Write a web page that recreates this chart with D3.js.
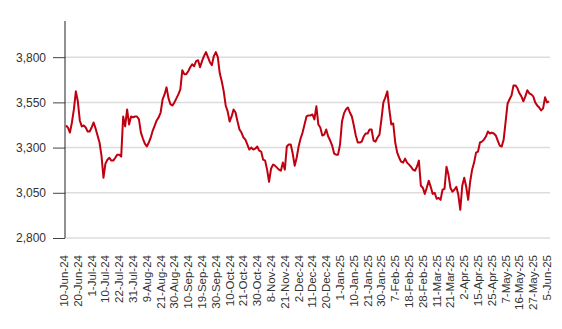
<!DOCTYPE html>
<html>
<head>
<meta charset="utf-8">
<script src="https://cdn.jsdelivr.net/npm/d3@7"></script>
<style>
  html, body { margin: 0; padding: 0; background: #fff; }
  svg { display: block; }
  text { font-family: "Liberation Sans", Arial, sans-serif; }
</style>
</head>
<body>
<svg id="chart" width="562" height="329"></svg>
<script>
// Daily closing values, one per trading session
const values = [
  3422, 3410, 3383, 3439, 3511, 3611, 3556, 3450, 3417, 3422,
  3411, 3389, 3389, 3411, 3439, 3406, 3367, 3328, 3256, 3133,
  3211, 3233, 3244, 3228, 3228, 3244, 3261, 3261, 3250, 3472,
  3417, 3511, 3428, 3472, 3467, 3472, 3472, 3456, 3383, 3350,
  3322, 3306, 3328, 3356, 3394, 3422, 3450, 3467, 3494, 3567,
  3594, 3633, 3572, 3539, 3533, 3550, 3572, 3594, 3622, 3728,
  3706, 3706, 3722, 3744, 3761, 3750, 3778, 3783, 3744, 3778,
  3806, 3828, 3800, 3772, 3756, 3806, 3828, 3800, 3711, 3667,
  3611, 3533, 3500, 3444, 3472, 3511, 3494, 3444, 3400, 3383,
  3356, 3344, 3317, 3289, 3300, 3289, 3294, 3306, 3283, 3278,
  3233, 3228, 3178, 3111, 3183, 3206, 3200, 3189, 3178, 3172,
  3217, 3178, 3306, 3317, 3317, 3267, 3200, 3244, 3306, 3350,
  3383, 3428, 3472, 3478, 3478, 3483, 3456, 3528, 3428, 3411,
  3367, 3372, 3400, 3361, 3339, 3311, 3267, 3261, 3261, 3317,
  3444, 3489, 3511, 3522, 3494, 3472, 3422, 3367, 3328, 3328,
  3333, 3361, 3378, 3378, 3400, 3400, 3339, 3333, 3356, 3372,
  3456, 3550, 3578, 3611, 3511, 3428, 3433, 3328, 3272, 3244,
  3222, 3217, 3239, 3217, 3206, 3194, 3178, 3172, 3194, 3228,
  3089, 3078, 3044, 3078, 3117, 3083, 3044, 3050, 3017, 3022,
  3011, 3067, 3072, 3194, 3150, 3078, 3056, 3067, 3083, 3039,
  2956, 3089, 3133, 3083, 3011, 3111, 3178, 3217, 3272, 3278,
  3328, 3333, 3344, 3361, 3389, 3378, 3383, 3378, 3367, 3339,
  3311, 3306, 3344, 3444, 3544, 3567, 3589, 3644, 3644, 3628,
  3600, 3583, 3556, 3583, 3617, 3600, 3594, 3583, 3550, 3533,
  3522, 3506, 3517, 3578, 3550, 3556
];

// Date labels shown every seventh session
const tickLabels = [
  "10-Jun-24", "20-Jun-24", "1-Jul-24", "10-Jul-24", "22-Jul-24", "31-Jul-24",
  "9-Aug-24", "21-Aug-24", "30-Aug-24", "10-Sep-24", "19-Sep-24", "30-Sep-24",
  "10-Oct-24", "21-Oct-24", "30-Oct-24", "8-Nov-24", "21-Nov-24", "2-Dec-24",
  "11-Dec-24", "20-Dec-24", "1-Jan-25", "10-Jan-25", "21-Jan-25", "30-Jan-25",
  "7-Feb-25", "18-Feb-25", "28-Feb-25", "11-Mar-25", "21-Mar-25", "2-Apr-25",
  "15-Apr-25", "25-Apr-25", "7-May-25", "16-May-25", "27-May-25", "5-Jun-25"
];
const labelStep = 7;

const yTicks = [2800, 3050, 3300, 3550, 3800];
const yDomain = [2800, 4000];

const svg = d3.select("#chart");
const plotLeft = 65, plotRight = 550, plotTop = 21, plotBottom = 238;

const x = d3.scalePoint()
  .domain(d3.range(values.length))
  .range([plotLeft + 1, plotRight - 1]);

const y = d3.scaleLinear()
  .domain(yDomain)
  .range([plotBottom, plotTop]);

// Horizontal grid lines
svg.append("g")
  .selectAll("line")
  .data(yTicks)
  .join("line")
  .attr("x1", plotLeft)
  .attr("x2", plotRight)
  .attr("y1", d => y(d))
  .attr("y2", d => y(d))
  .attr("stroke", "#dcdcdc")
  .attr("stroke-width", 1.5);

// Y axis
const yAxis = svg.append("g")
  .attr("transform", `translate(${plotLeft},0)`)
  .call(d3.axisLeft(y).tickValues(yTicks).tickFormat(d3.format(",")).tickSize(12).tickPadding(7));
yAxis.select(".domain").remove();
yAxis.selectAll(".tick line").attr("stroke", "#444");
yAxis.selectAll("text").attr("fill", "#333").style("font-size", "12px");
svg.append("line")
  .attr("x1", plotLeft).attr("x2", plotLeft)
  .attr("y1", plotTop).attr("y2", plotBottom)
  .attr("stroke", "#222")
  .attr("stroke-width", 1);

// X axis labels, rotated
const tickIdx = tickLabels.map((_, i) => i * labelStep);
const xAxis = svg.append("g")
  .attr("transform", `translate(0,${plotBottom})`)
  .call(d3.axisBottom(x).tickValues(tickIdx).tickFormat((d, i) => tickLabels[i]).tickSize(0).tickPadding(0));
xAxis.select(".domain").remove();
xAxis.selectAll("text")
  .attr("transform", "rotate(-90)")
  .attr("x", -17)
  .attr("y", -2.5)
  .attr("dy", "0.35em")
  .attr("text-anchor", "end")
  .attr("fill", "#333")
  .style("font-size", "11.5px");

// Price line
const line = d3.line()
  .x((d, i) => x(i))
  .y(d => y(d));

svg.append("path")
  .datum(values)
  .attr("fill", "none")
  .attr("stroke", "#c00010")
  .attr("stroke-width", 2)
  .attr("stroke-linejoin", "round")
  .attr("d", line);
</script>
</body>
</html>
